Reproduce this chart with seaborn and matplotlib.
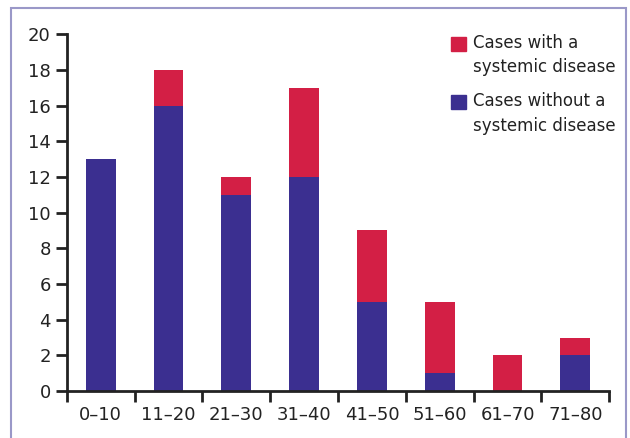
import matplotlib
matplotlib.use("Agg")
import matplotlib.pyplot as plt
from matplotlib.patches import Rectangle, Patch
from matplotlib.legend_handler import HandlerPatch
import pandas as pd
import seaborn as sns

# Age groups and case counts
age_groups = ["0\u201310", "11\u201320", "21\u201330", "31\u201340",
              "41\u201350", "51\u201360", "61\u201370", "71\u201380"]
without_disease = [13, 16, 11, 12, 5, 1, 0, 2]
with_disease = [0, 2, 1, 5, 4, 4, 2, 1]

df = pd.DataFrame({"age": age_groups,
                   "without": without_disease,
                   "with": with_disease})
df["total"] = df["without"] + df["with"]

red = "#D31F45"
blue = "#3B2F90"

sns.set_style("white")
plt.rcParams["font.family"] = ["DejaVu Sans"]

fig = plt.figure(figsize=(6.3, 4.38), dpi=100)
ax = fig.add_axes([0.106, 0.107, 0.861, 0.815])

# stacked bars: total in red, bottom part in blue
sns.barplot(data=df, x="age", y="total", color=red, width=0.44,
            saturation=1, linewidth=0, ax=ax)
sns.barplot(data=df, x="age", y="without", color=blue, width=0.44,
            saturation=1, linewidth=0, ax=ax)

ax.set_xlim(-0.5, 7.5)
ax.set_ylim(0, 20)
ax.set_yticks(range(0, 21, 2))
ax.set_xlabel("")
ax.set_ylabel("")

# ticks between categories on x
ax.set_xticks([i - 0.5 for i in range(9)], minor=False)
ax.set_xticklabels([])
ax.set_xticks(range(8), minor=True)
ax.set_xticklabels(age_groups, minor=True)
ax.tick_params(axis="x", which="major", bottom=True, length=8, width=2,
               direction="out", color="#222222")
ax.tick_params(axis="x", which="minor", bottom=True, length=0, labelsize=13,
               pad=11, labelcolor="#222222")
ax.tick_params(axis="y", left=True, length=8, width=2, direction="out",
               labelsize=13, color="#222222", labelcolor="#222222")

for s in ["top", "right"]:
    ax.spines[s].set_visible(False)
for s in ["left", "bottom"]:
    ax.spines[s].set_linewidth(2)
    ax.spines[s].set_color("#222222")


# legend squares sit next to the first line of each label
def top_square(legend, orig_handle, xdescent, ydescent, width, height,
               fontsize):
    return Rectangle((-xdescent, -ydescent + 9), width, height)


handles = [Patch(color=red, label="Cases with a\nsystemic disease"),
           Patch(color=blue, label="Cases without a\nsystemic disease")]
leg = ax.legend(handles=handles, loc="upper right", frameon=False,
                fontsize=12, handlelength=0.9, handleheight=0.9,
                handletextpad=0.4, labelspacing=0.95,
                bbox_to_anchor=(1.039, 1.042), labelcolor="#222222",
                handler_map={Patch: HandlerPatch(patch_func=top_square)})
for t in leg.get_texts():
    t.set_linespacing(1.45)

# thin frame around the figure
fig.patches.append(Rectangle((11 / 630, -0.01), 615 / 630, 1 - 8 / 438 + 0.01,
                             transform=fig.transFigure, fill=False,
                             edgecolor="#9A98C8", linewidth=1.5))

fig.savefig("out.png", dpi=100)
